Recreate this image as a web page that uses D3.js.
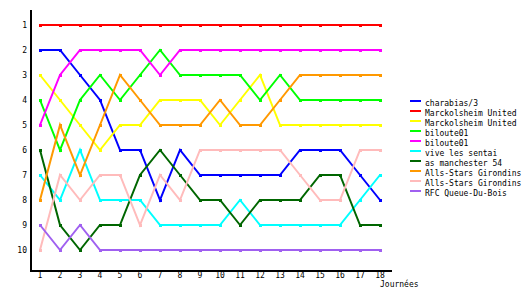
<!DOCTYPE html>
<html>
<head>
<meta charset="utf-8">
<script src="https://cdn.jsdelivr.net/npm/d3@7"></script>
<style>
  body { margin: 0; background: #fff; }
  text { font-family: "DejaVu Sans Mono", monospace; font-size: 8px; fill: #000; }
</style>
</head>
<body>
<svg></svg>
<script>
// Data
const journees = d3.range(1, 19);
const rankTicks = d3.range(1, 11);

const teams = [
	"charabias/3", "Marckolsheim United", "Marckolsheim United", "biloute01", "biloute01",
	"vive les sentai", "as manchester 54", "Alls-Stars Girondins", "Alls-Stars Girondins", "RFC Queue-Du-Bois"
];
const colors = [
	"#0000ff", "#ff0000", "#ffff00", "#00ff00", "#ff00ff",
	"#00ffff", "#006600", "#ff9900", "#ffbbbb", "#a060f0"
];

const charabias   = [2,2,3,4,6,6,8,6,7,7,7,7,7,6,6,6,7,8];
const marck1      = [1,1,1,1,1,1,1,1,1,1,1,1,1,1,1,1,1,1];
const marck2      = [3,4,5,6,5,5,4,4,4,5,4,3,5,5,5,5,5,5];
const biloute1    = [4,6,4,3,4,3,2,3,3,3,3,4,3,4,4,4,4,4];
const biloute2    = [5,3,2,2,2,2,3,2,2,2,2,2,2,2,2,2,2,2];
const sentai      = [7,8,6,8,8,8,9,9,9,9,8,9,9,9,9,9,8,7];
const manchester  = [6,9,10,9,9,7,6,7,8,8,9,8,8,8,7,7,9,9];
const girondins1  = [8,5,7,5,3,4,5,5,5,4,5,5,4,3,3,3,3,3];
const girondins2  = [10,7,8,7,7,9,7,8,6,6,6,6,6,7,8,8,6,6];
const queueDuBois = [9,10,9,10,10,10,10,10,10,10,10,10,10,10,10,10,10,10];

const series = [charabias, marck1, marck2, biloute1, biloute2,
	sentai, manchester, girondins1, girondins2, queueDuBois];

const svgWidth = 530;
const svgHeight = 300;

const scaleX = d3.scaleLinear()
	.domain([1, 18])
	.range([40, 380]);

const scaleY = d3.scaleLinear()
	.domain([1, 10])
	.range([25, 250]);

const chart = d3.select('svg')
	.attr('width', svgWidth)
	.attr('height', svgHeight);

// Axes lines
chart.append("line")
	.attr("x1", 30.5).attr("x2", 30.5)
	.attr("y1", 10).attr("y2", 271)
	.attr("stroke", "#000").attr("stroke-width", 2)
	.attr("shape-rendering", "crispEdges");

chart.append("line")
	.attr("x1", 30).attr("x2", 392)
	.attr("y1", 270.5).attr("y2", 270.5)
	.attr("stroke", "#000").attr("stroke-width", 2)
	.attr("shape-rendering", "crispEdges");

// Tick labels
chart.append("g")
	.selectAll("text")
	.data(rankTicks)
	.join("text")
	.attr("x", 27)
	.attr("y", d => scaleY(d) + 3)
	.attr("text-anchor", "end")
	.text(d => d);

chart.append("g")
	.selectAll("text")
	.data(journees)
	.join("text")
	.attr("x", d => scaleX(d))
	.attr("y", 278)
	.attr("text-anchor", "middle")
	.text(d => d);

chart.append("text")
	.attr("x", 380)
	.attr("y", 287)
	.text("Journées");

// Lines
const line = d3.line()
	.x((d, i) => scaleX(journees[i]))
	.y(d => scaleY(d));

series.forEach((values, k) => {
	const g = chart.append("g");
	g.append("path")
		.datum(values)
		.attr("fill", "none")
		.attr("stroke", colors[k])
		.attr("stroke-width", 2)
		.attr("d", line);
	g.selectAll("rect")
		.data(values)
		.join("rect")
		.attr("x", (d, i) => scaleX(journees[i]) - 1.5)
		.attr("y", d => scaleY(d) - 1.5)
		.attr("width", 3)
		.attr("height", 3)
		.attr("fill", colors[k])
		.attr("shape-rendering", "crispEdges");
});

// Legend
const legend = chart.append("g")
	.selectAll("g")
	.data(teams)
	.join("g")
	.attr("transform", (d, i) => `translate(410, ${101 + i * 10})`);

legend.append("rect")
	.attr("x", 0).attr("y", -1)
	.attr("width", 11).attr("height", 2)
	.attr("fill", (d, i) => colors[i])
	.attr("shape-rendering", "crispEdges");

legend.append("text")
	.attr("x", 15)
	.attr("y", 5)
	.text(d => d);
</script>
</body>
</html>
